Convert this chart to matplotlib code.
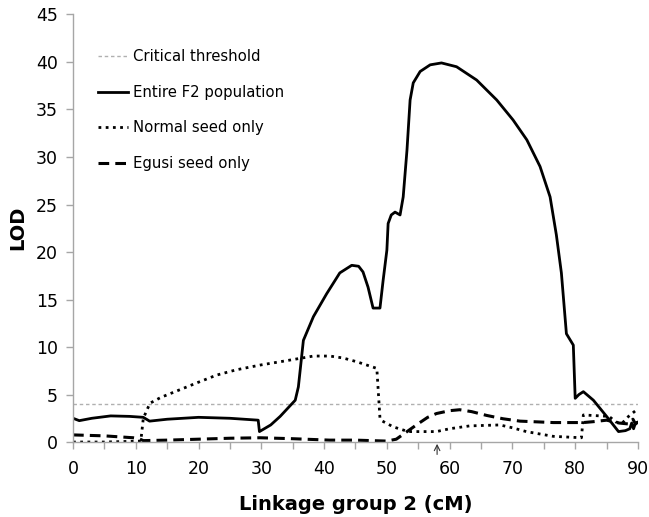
import matplotlib
matplotlib.use("Agg")
import matplotlib.pyplot as plt
from matplotlib.ticker import MultipleLocator

# LOD profiles along linkage group 2
f2_cm = [0, 1, 3, 6, 9, 11.2, 12.2, 15, 20, 25, 29.5, 29.7, 31.5, 33.0, 35.4, 35.9,
         36.7, 38.3, 40.4, 42.5, 44.4, 45.5, 46.2, 47.0, 47.8, 48.9, 49.4, 50.0, 50.2,
         50.7, 51.3, 52.1, 52.6, 53.2, 53.7, 54.2, 55.3, 56.9, 58.7, 61.1, 64.3,
         67.5, 70.1, 72.3, 74.4, 76.0, 77.0, 77.8, 78.6, 79.7, 80.0, 80.6, 81.3,
         82.9, 85.0, 86.9, 88.0, 88.7, 89.0, 89.3, 89.6, 90]
f2_lod = [2.5, 2.25, 2.5, 2.75, 2.7, 2.6, 2.2, 2.4, 2.6, 2.5, 2.3, 1.1, 1.8, 2.7, 4.4, 5.8,
          10.7, 13.2, 15.6, 17.8, 18.6, 18.5, 17.9, 16.3, 14.1, 14.1, 17.0, 20.2, 23.0,
          23.9, 24.2, 23.9, 25.8, 30.7, 36.0, 37.8, 39.0, 39.7, 39.9, 39.5, 38.1,
          36.0, 33.9, 31.8, 29.0, 25.8, 21.8, 17.8, 11.4, 10.2, 4.6, 5.0, 5.3,
          4.4, 2.7, 1.1, 1.2, 1.4, 2.0, 1.4, 2.0, 2.1]

normal_cm = [0, 5, 10.8, 11.2, 12.0, 12.3, 14, 17, 20, 22.9, 26, 29.8, 33, 36.1, 38.3,
             40.9, 43, 45.2, 48.4, 48.9, 49.3, 51, 53.4, 57.9, 60, 63.2, 68, 70, 72.2,
             76.5, 81, 81.3, 85.4, 86.5, 87.5, 88.5, 89.8]
normal_lod = [0.0, 0.0, 0.1, 2.5, 3.7, 4.1, 4.7, 5.5, 6.3, 7.05, 7.6, 8.1, 8.45, 8.8, 9.05,
              9.05, 8.85, 8.45, 7.75, 2.5, 2.2, 1.6, 1.1, 1.1, 1.4, 1.7, 1.8, 1.5, 1.1,
              0.6, 0.45, 2.85, 2.7, 2.1, 2.0, 2.7, 3.4]

egusi_cm = [0, 5, 9.6, 10.5, 11.2, 15, 20, 25, 29.8, 35, 40.9, 45, 50, 51.5, 53, 54.7,
            56.5, 57.9, 60, 61.6, 63.5, 65.9, 68.5, 71.2, 76.5, 81.3, 83, 85.0, 87.0,
            88.5, 89.2, 89.6, 90]
egusi_lod = [0.75, 0.65, 0.45, 0.35, 0.15, 0.2, 0.3, 0.4, 0.45, 0.35, 0.2, 0.2, 0.1, 0.3, 1.0, 1.8,
             2.6, 3.0, 3.3, 3.4, 3.2, 2.8, 2.45, 2.2, 2.05, 2.05, 2.15, 2.3, 2.0,
             1.9, 2.4, 1.9, 2.1]

threshold = 4.0
marker_cm = 58

fig = plt.figure(figsize=(6.49, 5.17), dpi=100)
ax = fig.add_axes([0.1125, 0.145, 0.8705, 0.827])

ax.plot([0, 90], [threshold, threshold], color="#b0b0b0", lw=1.0,
        linestyle=(0, (2.5, 2)), label="Critical threshold")
ax.plot(f2_cm, f2_lod, color="black", lw=2.0, label="Entire F2 population")
ax.plot(normal_cm, normal_lod, color="black", lw=2.0, linestyle=(0, (1, 1.6)),
        label="Normal seed only")
ax.plot(egusi_cm, egusi_lod, color="black", lw=2.2, linestyle=(0, (3.5, 2)),
        label="Egusi seed only")

ax.set_xlim(0, 90)
ax.set_ylim(0, 45)
ax.xaxis.set_major_locator(MultipleLocator(10))
ax.xaxis.set_minor_locator(MultipleLocator(5))
ax.yaxis.set_major_locator(MultipleLocator(5))

for side in ("top", "right"):
    ax.spines[side].set_visible(False)
for side in ("left", "bottom"):
    ax.spines[side].set_color("#a6a6a6")
    ax.spines[side].set_linewidth(1.0)
ax.tick_params(axis="both", which="both", color="#a6a6a6", length=5, width=1.0,
               labelsize=12.5)
ax.tick_params(axis="x", pad=8)
ax.tick_params(axis="y", pad=6)

ax.set_xlabel("Linkage group 2 (cM)", fontsize=14, fontweight="bold", labelpad=12)
ax.set_ylabel("LOD", fontsize=14, fontweight="bold", labelpad=6)

ax.annotate("", xy=(marker_cm, 0.1), xytext=(marker_cm, -1.6),
            annotation_clip=False,
            arrowprops=dict(arrowstyle="->", color="#333333", lw=0.8))

ax.legend(loc="upper left", bbox_to_anchor=(0.02, 0.95), frameon=False,
          fontsize=10.7, handlelength=2.05, handletextpad=0.3, labelspacing=1.38)

fig.savefig("out.png", dpi=100)
